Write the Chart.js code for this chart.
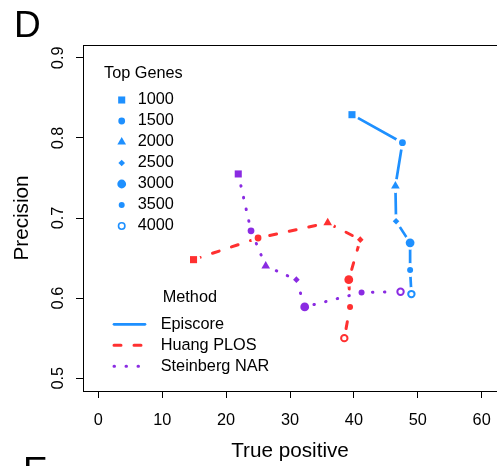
<!DOCTYPE html>
<html lang="en">
<head>
    <meta charset="UTF-8">
    <title>Precision vs True positive</title>
    <script src="https://cdn.jsdelivr.net/npm/chart.js"></script>
    <style>
        body {
            margin: 0;
            background: #fff;
        }
    </style>
</head>
<body>
    <canvas id="myChart" width="497" height="466"></canvas>

    <script>
// values
const topGenes = ['1000', '1500', '2000', '2500', '3000', '3500', '4000'];
const methods = ['Episcore', 'Huang PLOS', 'Steinberg NAR'];
const episcoreTP = [39.7, 47.6, 46.5, 46.6, 48.8, 48.8, 49.0];
const episcorePrec = [0.829, 0.794, 0.740, 0.696, 0.669, 0.635, 0.605];
const huangTP = [14.9, 25.0, 35.9, 41.0, 39.2, 39.4, 38.5];
const huangPrec = [0.648, 0.675, 0.694, 0.673, 0.623, 0.589, 0.550];
const steinbergTP = [21.9, 23.9, 26.2, 31.0, 32.3, 41.2, 47.3];
const steinbergPrec = [0.755, 0.684, 0.640, 0.623, 0.589, 0.607, 0.608];
const xTicks = [0, 10, 20, 30, 40, 50, 60];
const yTicks = [0.5, 0.6, 0.7, 0.8, 0.9];

const FONT = '"Liberation Sans", Arial, Helvetica, sans-serif';
const colors = ['#1e90ff', '#ff3030', '#8a2be2'];
const dashes = [[], [7, 13], [0.5, 11.5]];
const widths = [2.7, 3, 3];

// marker per top-genes level (R pch 15,16,17,18,19,20,1)
const shapes = ['rect', 'circle', 'triangle', 'rectRot', 'circle', 'circle', 'circle'];
const radii = [5, 3.4, 5, 3.3, 4.4, 3, 3.2];
const open = [false, false, false, false, false, false, true];
const GAP = 7; // R type="b" leaves a gap round each point

function pts(xs, ys) {
    return xs.map((x, k) => ({x: x, y: ys[k]}));
}

// the connecting line, no points
function lineSet(label, xs, ys, i) {
    return {
        label: label,
        data: pts(xs, ys),
        showLine: true,
        gap: true,
        borderColor: colors[i],
        borderWidth: widths[i],
        borderDash: dashes[i],
        borderCapStyle: 'round',
        pointRadius: 0,
        order: 10 - 2 * i
    };
}

// the markers on top of it
function pointSet(label, xs, ys, i) {
    return {
        label: label,
        data: pts(xs, ys),
        showLine: false,
        pointStyle: shapes,
        pointRadius: radii,
        pointBackgroundColor: open.map(o => o ? '#fff' : colors[i]),
        pointBorderColor: colors[i],
        pointBorderWidth: open.map(o => o ? 2 : 0),
        order: 9 - 2 * i
    };
}

function marker(ctx, k, x, y, col) {
    ctx.fillStyle = open[k] ? '#fff' : col;
    ctx.strokeStyle = col;
    ctx.lineWidth = open[k] ? 1.6 : 0;
    Chart.helpers.drawPoint(ctx, {
        pointStyle: shapes[k], radius: radii[k], rotation: 0,
        borderWidth: open[k] ? 1.6 : 0
    }, x, y);
}

const gaps = {
    id: 'gaps',
    beforeDatasetDraw(chart, args) {
        const ds = chart.data.datasets[args.index];
        if (!ds.gap) return;
        const ctx = chart.ctx;
        ctx.save();
        ctx.beginPath();
        ctx.rect(0, 0, chart.width, chart.height);
        args.meta.data.forEach(p => {
            ctx.moveTo(p.x + GAP, p.y);
            ctx.arc(p.x, p.y, GAP, 0, Math.PI * 2);
        });
        ctx.clip('evenodd');
    },
    afterDatasetDraw(chart, args) {
        if (chart.data.datasets[args.index].gap) chart.ctx.restore();
    }
};

const extras = {
    id: 'extras',
    afterDraw(chart) {
        const ctx = chart.ctx;
        const a = chart.chartArea;
        const ys = chart.scales.y;
        ctx.save();

        // top of the box
        ctx.strokeStyle = '#000';
        ctx.lineWidth = 1;
        ctx.beginPath();
        ctx.moveTo(a.left, a.top + 0.5);
        ctx.lineTo(a.right, a.top + 0.5);
        ctx.stroke();

        // y tick labels, turned like R does
        ctx.fillStyle = '#000';
        ctx.font = '16.3px ' + FONT;
        ctx.textAlign = 'center';
        ctx.textBaseline = 'alphabetic';
        yTicks.forEach(v => {
            ctx.save();
            ctx.translate(63, ys.getPixelForValue(v));
            ctx.rotate(-Math.PI / 2);
            ctx.fillText(v.toFixed(1), 0, 0);
            ctx.restore();
        });

        // panel letters
        ctx.font = '37px ' + FONT;
        ctx.textAlign = 'left';
        ctx.fillText('D', 14, 37);
        ctx.fillText('E', 23, 483);

        // legend: Top Genes
        ctx.font = '16.3px ' + FONT;
        ctx.textBaseline = 'middle';
        ctx.fillText('Top Genes', 104, 73.5);
        topGenes.forEach((g, k) => {
            const y = 100 + 21 * k;
            marker(ctx, k, 121.7, y, colors[0]);
            ctx.fillStyle = '#000';
            ctx.fillText(g, 137.7, y);
        });

        // legend: Method
        ctx.fillText('Method', 162.7, 298);
        methods.forEach((m, i) => {
            const y = 324.3 + 21 * i;
            ctx.save();
            ctx.strokeStyle = colors[i];
            ctx.lineWidth = widths[i];
            ctx.lineCap = 'round';
            ctx.setLineDash(dashes[i]);
            ctx.beginPath();
            ctx.moveTo(114, y);
            ctx.lineTo(145, y);
            ctx.stroke();
            ctx.restore();
            ctx.fillStyle = '#000';
            ctx.fillText(m, 160.7, y);
        });
        ctx.restore();
    }
};

new Chart(document.getElementById('myChart'), {
    type: 'scatter',
    data: {
        datasets: [
            lineSet(methods[0], episcoreTP, episcorePrec, 0),
            pointSet(methods[0], episcoreTP, episcorePrec, 0),
            lineSet(methods[1], huangTP, huangPrec, 1),
            pointSet(methods[1], huangTP, huangPrec, 1),
            lineSet(methods[2], steinbergTP, steinbergPrec, 2),
            pointSet(methods[2], steinbergTP, steinbergPrec, 2)
        ]
    },
    options: {
        responsive: false,
        animation: false,
        devicePixelRatio: 1,
        layout: {autoPadding: false, padding: {top: 45, right: 0, left: 0, bottom: 0}},
        plugins: {legend: {display: false}, tooltip: {enabled: false}},
        scales: {
            x: {
                type: 'linear',
                min: -2.4,
                max: 62.4,
                afterBuildTicks: s => { s.ticks = xTicks.map(v => ({value: v})); },
                afterFit: s => { s.height = 75; s.paddingLeft = 0; s.paddingRight = 0; },
                ticks: {
                    color: '#000',
                    font: {family: FONT, size: 16.3},
                    padding: 13,
                    maxRotation: 0,
                    callback: v => String(v)
                },
                grid: {drawOnChartArea: false, color: '#000', tickLength: 7},
                border: {display: true, color: '#000', width: 1},
                title: {
                    display: true,
                    text: 'True positive',
                    color: '#000',
                    font: {family: FONT, size: 20.7, lineHeight: 1.2},
                    padding: {top: 0, bottom: 2.5}
                }
            },
            y: {
                type: 'linear',
                min: 0.484,
                max: 0.916,
                afterBuildTicks: s => { s.ticks = yTicks.map(v => ({value: v})); },
                afterFit: s => { s.width = 83; s.paddingTop = 0; s.paddingBottom = 0; },
                ticks: {display: false},
                grid: {drawOnChartArea: false, color: '#000', tickLength: 7},
                border: {display: true, color: '#000', width: 1},
                title: {
                    display: true,
                    text: 'Precision',
                    color: '#000',
                    font: {family: FONT, size: 20.7, lineHeight: 1.2},
                    padding: {top: 9.6, bottom: 0}
                }
            }
        }
    },
    plugins: [gaps, extras]
});
    </script>
</body>
</html>
